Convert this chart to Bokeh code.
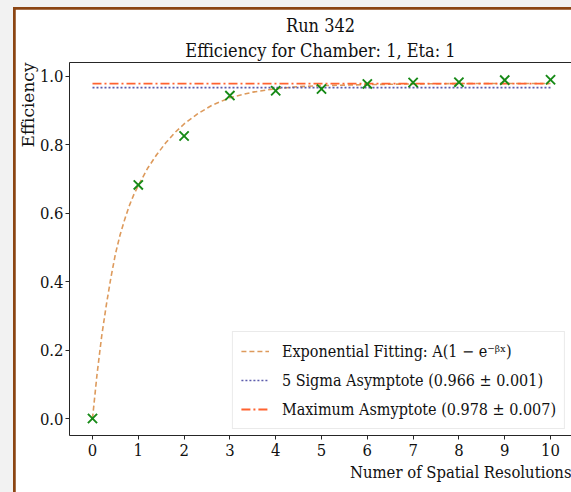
from bokeh.plotting import figure
from bokeh.models import (Range1d, Title, FixedTicker, PrintfTickFormatter,
                          Legend, LegendItem, LinearAxis)
from bokeh.layouts import column
from bokeh.embed import file_html
from bokeh.resources import INLINE

# ---- data ----
resolutions = [0, 1, 2, 3, 4, 5, 6, 7, 8, 9, 10]
efficiency = [0.0, 0.682, 0.825, 0.943, 0.957, 0.962, 0.977, 0.981, 0.982, 0.988, 0.989]

fit_x = [0, 0.1, 0.2, 0.3, 0.4, 0.5, 0.6, 0.7, 0.8, 0.9, 1.0, 1.2, 1.4, 1.6, 1.8, 2.0,
         2.3, 2.6, 3.0, 3.5, 4.0, 4.5, 5.0, 6.0, 7.0, 8.0, 9.0, 10.0]
fit_y = [0.0, 0.13, 0.24, 0.33, 0.41, 0.48, 0.535, 0.58, 0.62, 0.653, 0.68, 0.73, 0.77,
         0.805, 0.835, 0.86, 0.89, 0.914, 0.937, 0.953, 0.963, 0.969, 0.972, 0.975,
         0.977, 0.978, 0.978, 0.978]

asym_x = [0, 10]
sigma5_value = 0.966
max_value = 0.978

x_ticks = [0, 1, 2, 3, 4, 5, 6, 7, 8, 9, 10]
y_ticks = [0.0, 0.2, 0.4, 0.6, 0.8, 1.0]

title_line1 = "Run 342"
title_line2 = "Efficiency for Chamber: 1, Eta: 1"
x_label = "Numer of Spatial Resolutions"
y_label = "Efficiency"
fit_label = "Exponential Fitting: A(1 \u2212 e\u207b\u1d5d\u02e3)"
sigma_label = "5 Sigma Asymptote (0.966 \u00b1 0.001)"
max_label = "Maximum Asmyptote (0.978 \u00b1 0.007)"

FONT = "DejaVu Serif Condensed"
FONT_Y = "DejaVu Serif"
INK = "#262626"
TXT = "#111111"

X0, X1 = -0.502, 10.458
Y0, Y1 = -0.0495, 1.0395

p = figure(width=556, height=483,
           x_range=Range1d(X0, X1), y_range=Range1d(Y0, Y1),
           output_backend="svg", toolbar_location=None,
           min_border_left=54, min_border_top=53, min_border_right=0,
           min_border_bottom=57, margin=(2, 0, 0, 2))
p.background_fill_color = "white"
p.border_fill_color = "white"
p.outline_line_color = None
p.xgrid.grid_line_color = None
p.ygrid.grid_line_color = None

xax = p.xaxis[0]
yax = p.yaxis[0]

# top spine (added first -> nearest the frame)
top_axis = LinearAxis(ticker=FixedTicker(ticks=[]), axis_line_color=INK,
                      major_tick_out=0, major_tick_in=0, minor_tick_out=0,
                      minor_tick_in=0, major_label_text_font_size="0px")
p.add_layout(top_axis, "above")

# titles
p.add_layout(Title(text=title_line2, align="center", text_font=FONT, text_font_size="18px",
                   text_font_style="normal", text_color=TXT, standoff=3), "above")
p.title = Title(text=title_line1, align="center", text_font=FONT, text_font_size="18px",
                text_font_style="normal", text_color=TXT, standoff=2)

p.add_layout(Title(text=x_label, align="right", text_font=FONT, text_font_size="16.5px",
                   text_font_style="normal", text_color=TXT, standoff=5), "below")
p.add_layout(Title(text=y_label, align="right", text_font=FONT_Y, text_font_size="17px",
                   text_font_style="normal", text_color=TXT, standoff=-3), "left")

for ax in (xax, yax):
    ax.axis_line_color = INK
    ax.major_tick_line_color = INK
    ax.major_tick_out = 4
    ax.major_tick_in = 0
    ax.minor_tick_line_color = None
    ax.major_label_text_font = FONT
    ax.major_label_text_font_size = "16.5px"
    ax.major_label_text_color = TXT
    ax.major_label_standoff = 4
yax.major_label_standoff = 2

xax.ticker = FixedTicker(ticks=x_ticks)
yax.ticker = FixedTicker(ticks=y_ticks)
yax.formatter = PrintfTickFormatter(format="%.1f")

# glyphs
fit_r = p.line(fit_x, fit_y, line_color="#dd9a5c", line_width=1.6, line_dash="5 3")
sig_r = p.line(asym_x, [sigma5_value, sigma5_value], line_color="#5c5cac",
               line_width=1.6, line_dash="2 2")
max_r = p.line(asym_x, [max_value, max_value], line_color="#ff6330",
               line_width=1.8, line_dash="9 3 2 3")
p.scatter(resolutions, efficiency, marker="x", size=13, line_color="#178a17",
          line_width=1.9)

legend = Legend(items=[LegendItem(label=fit_label, renderers=[fit_r]),
                       LegendItem(label=sigma_label, renderers=[sig_r]),
                       LegendItem(label=max_label, renderers=[max_r])],
                location="bottom_right")
legend.label_text_font = FONT
legend.label_text_font_size = "16px"
legend.label_text_color = TXT
legend.glyph_width = 28
legend.glyph_height = 22
legend.label_height = 22
legend.spacing = 7
legend.padding = 8
legend.margin = 6
legend.label_standoff = 13
legend.border_line_color = "#d6d6d6"
legend.border_line_width = 1
legend.background_fill_alpha = 0.85
p.add_layout(legend)

inner = column(p, styles={"background-color": "#8b4513"}, margin=(7, 0, 0, 13))
outer = column(inner, width=571, height=492, styles={"background-color": "#f2f2f2"})

open("out.html", "w").write(file_html(outer, INLINE))
